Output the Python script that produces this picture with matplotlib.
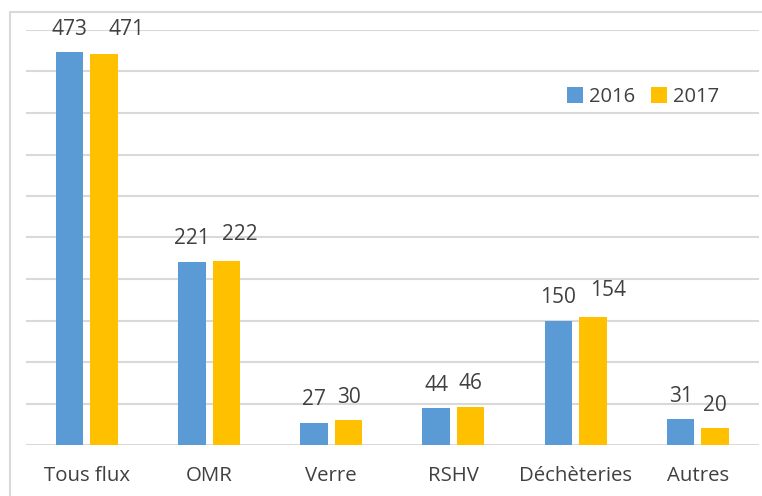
import numpy as np
import matplotlib.pyplot as plt
from matplotlib.patches import Rectangle

categories = ['Tous flux', 'OMR', 'Verre', 'RSHV', 'Déchèteries', 'Autres']
values_2016 = [473, 221, 27, 44, 150, 31]
values_2017 = [471, 222, 30, 46, 154, 20]
series_labels = ['2016', '2017']

blue = '#5B9BD5'
gold = '#FFC000'
text_col = '#404040'
grid_col = '#D9D9D9'

plt.rcParams['font.family'] = ['Open Sans', 'DejaVu Sans']

fig = plt.figure(figsize=(7.62, 4.96), dpi=100)
W, H = 762, 496

# outer chart border (cropped on right and bottom in the reference)
fig.patches.append(Rectangle((10 / W, -0.1), 1.2, 1 - 12 / H + 0.1,
                             transform=fig.transFigure, fill=False,
                             edgecolor=grid_col, linewidth=1.5))

ax = fig.add_axes([25.7 / W, 1 - 445 / H, (759 - 25.7) / W, (445 - 30) / H])

x = np.arange(len(categories))
w = 0.225
gap = 0.057
b1 = ax.bar(x - (w + gap) / 2, values_2016, w, color=blue, label=series_labels[0], zorder=3)
b2 = ax.bar(x + (w + gap) / 2, values_2017, w, color=gold, label=series_labels[1], zorder=3)

# data labels; Excel nudges some 2017 labels sideways where they crowd
nudge_2017 = [(16, 1), (10, 2), (0, 0), (0, 0), (11, 3), (0, 0)]
for rect in b1:
    ax.annotate(f"{rect.get_height():.0f}",
                (rect.get_x() + rect.get_width() / 2, rect.get_height()),
                xytext=(0, 9), textcoords='offset points',
                ha='center', va='bottom', fontsize=15, color=text_col)
for rect, (dx, dy) in zip(b2, nudge_2017):
    ax.annotate(f"{rect.get_height():.0f}",
                (rect.get_x() + rect.get_width() / 2, rect.get_height()),
                xytext=(dx, 9 + dy), textcoords='offset points',
                ha='center', va='bottom', fontsize=15, color=text_col)

ax.set_ylim(0, 500)
ax.set_xlim(-0.5, len(categories) - 0.5)
ax.set_yticks(np.arange(0, 501, 50))
ax.set_yticklabels([])
ax.tick_params(axis='y', length=0)
ax.tick_params(axis='x', length=0, pad=15, labelsize=14.7, labelcolor=text_col)
ax.set_xticks(x)
ax.set_xticklabels(categories)
ax.grid(axis='y', color=grid_col, linewidth=1.5, zorder=0)
for s in ax.spines.values():
    s.set_visible(False)

ax.legend(loc='center', bbox_to_anchor=(643 / W, 1 - 97 / H),
          bbox_transform=fig.transFigure, ncol=2, frameon=False,
          fontsize=14.5, labelcolor=text_col, handlelength=0.8, handleheight=0.8,
          handletextpad=0.3, columnspacing=0.8)

fig.savefig('out.png', dpi=100)
